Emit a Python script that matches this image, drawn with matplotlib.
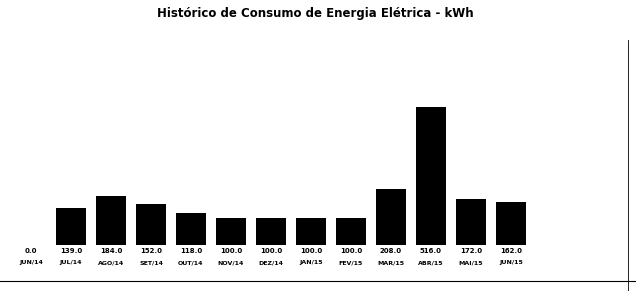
import matplotlib
matplotlib.use("Agg")
import matplotlib.pyplot as plt

meses = ["JUN/14", "JUL/14", "AGO/14", "SET/14", "OUT/14", "NOV/14", "DEZ/14",
         "JAN/15", "FEV/15", "MAR/15", "ABR/15", "MAI/15", "JUN/15"]
consumo = [0.0, 139.0, 184.0, 152.0, 118.0, 100.0, 100.0, 100.0, 100.0, 208.0, 516.0, 172.0, 162.0]

plt.rcParams['font.family'] = ['DejaVu Sans']

fig = plt.figure(figsize=(6.36, 2.91), dpi=100)
ax = fig.add_axes([0, 46 / 291, 1, 185 / 291])

x = list(range(len(meses)))
ax.bar(x, consumo, width=0.75, color="black")
ax.set_xlim(-0.775, 15.125)
ax.set_ylim(0, 692)
ax.axis("off")

# valores e meses abaixo das barras
for i, (m, v) in enumerate(zip(meses, consumo)):
    ax.annotate(f"{v:.1f}", (i, 0), xytext=(0, -2), textcoords="offset points",
                ha="center", va="top", fontsize=5, fontweight="bold")
    ax.annotate(m, (i, 0), xytext=(0, -11), textcoords="offset points",
                ha="center", va="top", fontsize=4.5, fontweight="bold")

fig.text(315 / 636, 1 - 14 / 291, "Histórico de Consumo de Energia Elétrica - kWh",
         ha="center", va="center", fontsize=8.5, fontweight="bold")

# bordas do recorte
fig.add_artist(plt.Line2D([0, 1], [1 - 281 / 291] * 2, color="black", lw=0.8))
fig.add_artist(plt.Line2D([628 / 636] * 2, [0, 1 - 40 / 291], color="black", lw=0.6))

fig.savefig("out.png", dpi=100, facecolor="white")
